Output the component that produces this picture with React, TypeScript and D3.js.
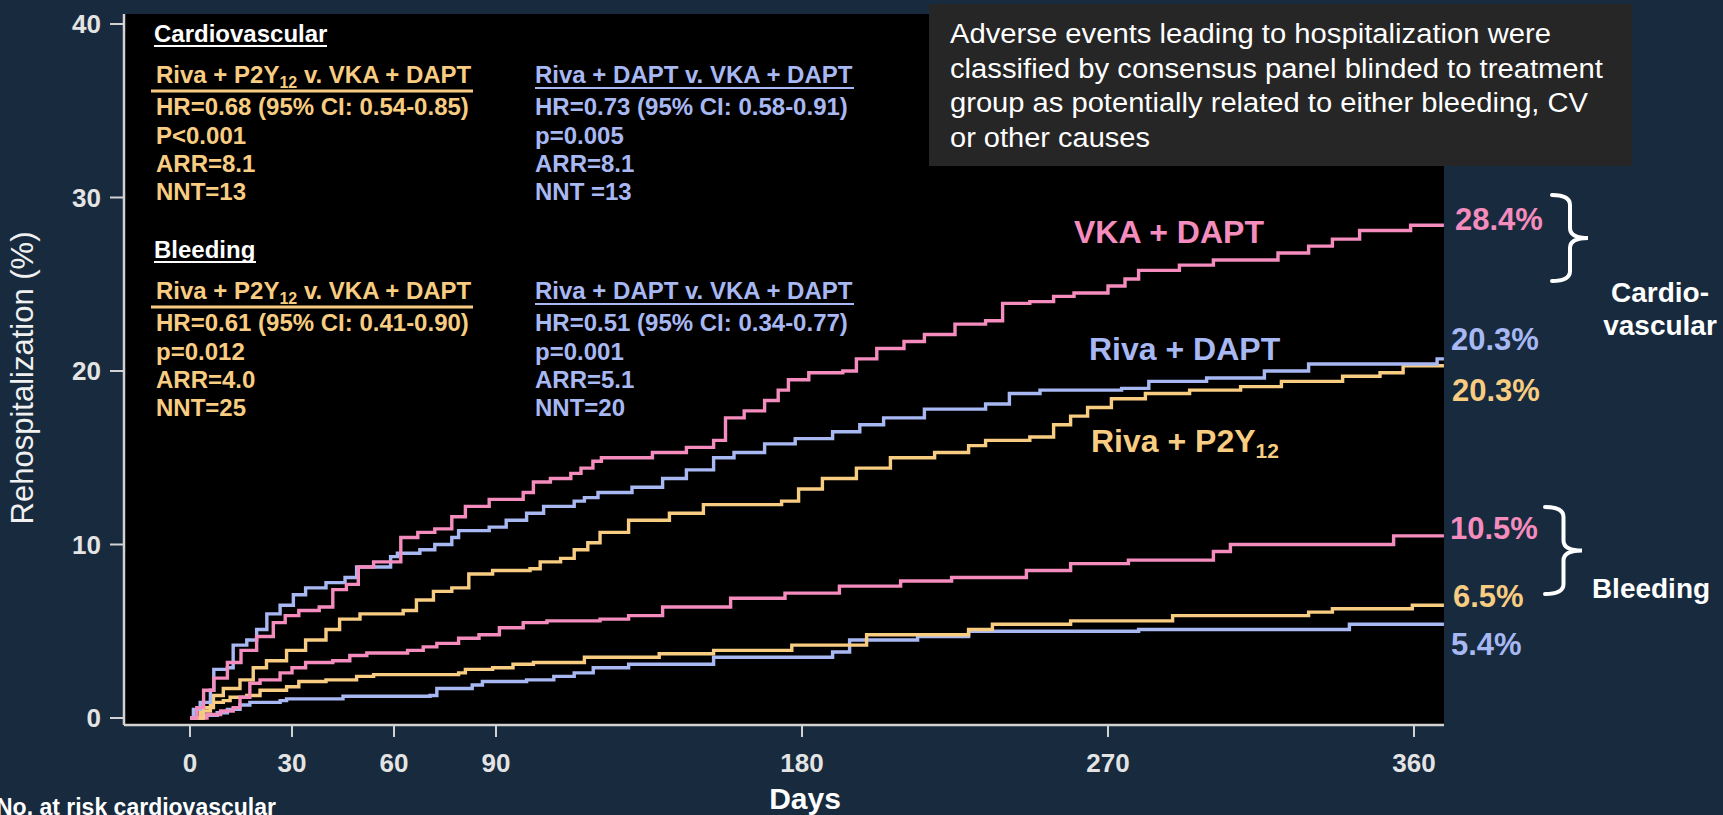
import React from 'react';
import * as d3 from 'd3';

type Pt = [number, number];

// axis ticks
const xTicks = [0, 30, 60, 90, 180, 270, 360];
const yTicks = [0, 10, 20, 30, 40];

// cumulative rehospitalization (%), [day, value]
const vkaDaptCv: Pt[] = [
  [0, 0], [2, 0.6], [4, 1.6], [7, 2.3], [11, 3.2], [15, 3.9], [19.6, 4.7], [24.5, 5.5], [28, 5.9],
  [32, 6.2], [38, 6.4], [42, 7.4], [46, 7.7], [49.5, 8.7], [54, 9.0], [62, 10.4], [67, 10.7],
  [72, 10.9], [77, 11.6], [81, 12.2], [88, 12.6], [98, 13.0], [101, 13.6], [106, 13.8], [112, 14.1],
  [115, 14.4], [118.5, 14.8], [121, 15.0], [136, 15.3], [146, 15.6], [154, 16.0], [157.5, 17.3],
  [163, 17.7], [169, 18.3], [173, 18.9], [176, 19.5], [182, 19.9], [192, 20.0], [196, 20.7],
  [202, 21.3], [210, 21.7], [216, 22.1], [225, 22.7], [234, 22.9], [239, 23.9], [247, 24.0],
  [254, 24.3], [260, 24.5], [270, 24.9], [275, 25.3], [279, 25.8], [291, 26.1], [301, 26.4],
  [320, 26.8], [329, 27.2], [336, 27.6], [344, 28.1], [359, 28.4], [368.8, 28.4]
];

const rivaDaptCv: Pt[] = [
  [0, 0], [1, 0.5], [3, 0.9], [6, 1.6], [7, 2.8], [11, 2.9], [12.7, 4.2], [16.7, 4.5], [19.6, 5.1],
  [22.6, 6.0], [26.5, 6.5], [30.4, 7.1], [34, 7.5], [40, 7.8], [45.6, 8.1], [49, 8.7], [59, 9.3],
  [61, 9.5], [67.6, 9.7], [72, 10.0], [77, 10.4], [79, 10.8], [88, 11.0], [93, 11.4], [99, 11.8],
  [104, 12.2], [113, 12.5], [116, 12.7], [120, 13.0], [130, 13.3], [139, 13.8], [146, 14.3],
  [154, 15.0], [160, 15.3], [169, 15.8], [178, 16.1], [189, 16.5], [197, 16.9], [204, 17.3],
  [216, 17.8], [234, 18.1], [241, 18.7], [250, 18.9], [274, 19.0], [282, 19.4], [299, 19.6],
  [316, 20.0], [329, 20.4], [366.8, 20.7], [368.8, 20.7]
];

const rivaP2y12Cv: Pt[] = [
  [0, 0], [3.9, 0.6], [6.9, 1.3], [9.8, 1.7], [14.7, 2.2], [18.6, 2.9], [22.5, 3.3], [28.4, 3.9],
  [34, 4.5], [40, 5.1], [44, 5.7], [50, 6.0], [62.7, 6.2], [66.6, 6.8], [71.6, 7.3], [77, 7.5],
  [82, 8.3], [89, 8.5], [100, 8.6], [103, 9.0], [109, 9.2], [113, 9.7], [117, 10.1], [120.6, 10.7],
  [129, 11.4], [141, 11.8], [151, 12.3], [174, 12.5], [179, 13.2], [186, 13.8], [196, 14.4],
  [206, 15.0], [219, 15.3], [229, 15.7], [234, 16.0], [247, 16.2], [254, 16.9], [259, 17.4],
  [264, 17.9], [271, 18.4], [281, 18.7], [294, 18.9], [309, 19.1], [321, 19.4], [339, 19.7],
  [350, 19.9], [356.8, 20.3], [368.8, 20.3]
];

const vkaDaptBleed: Pt[] = [
  [0, 0], [5, 0.2], [9, 0.4], [12.7, 0.6], [14.7, 1.2], [17.6, 2.0], [20.6, 2.2], [26.5, 2.6],
  [30, 2.9], [34, 3.2], [42, 3.3], [47, 3.6], [52, 3.75], [64, 3.9], [68.6, 4.1], [72.6, 4.3],
  [79, 4.6], [85, 4.8], [91, 5.2], [98, 5.5], [105, 5.6], [120.6, 5.7], [129, 5.9], [139, 6.4],
  [159, 6.9], [175, 7.2], [191, 7.6], [209, 7.9], [224, 8.1], [246, 8.5], [259, 8.9], [276, 9.1],
  [301, 9.6], [306, 10.0], [349, 10.0], [354, 10.5], [368.8, 10.5]
];

const rivaP2y12Bleed: Pt[] = [
  [0, 0], [3, 0.4], [6, 0.9], [9.8, 1.0], [11.8, 1.2], [16.7, 1.3], [20.6, 1.6], [28.4, 1.8],
  [32, 2.1], [40, 2.2], [49, 2.4], [54, 2.5], [79, 2.6], [81, 2.8], [89, 2.9], [95, 3.1],
  [101, 3.2], [116, 3.5], [138, 3.7], [154, 3.9], [177, 4.2], [199, 4.8], [229, 5.1], [236, 5.4],
  [259, 5.6], [289, 5.9], [329, 6.1], [336, 6.3], [359.5, 6.5], [368.8, 6.5]
];

const rivaDaptBleed: Pt[] = [
  [0, 0], [4, 0.15], [8, 0.3], [11, 0.5], [14.7, 0.75], [17.6, 0.9], [26.5, 1.0], [28.4, 1.1],
  [45, 1.25], [70.6, 1.3], [72.6, 1.7], [83, 1.9], [86, 2.1], [99, 2.2], [107, 2.4], [113, 2.6],
  [118.6, 2.9], [129, 3.1], [154, 3.5], [189, 3.8], [194, 4.5], [214, 4.7], [229, 5.0],
  [279, 5.1], [341, 5.4], [368.8, 5.4]
];

// statistics text
const cvP2y12Stats = ['HR=0.68 (95% CI: 0.54-0.85)', 'P<0.001', 'ARR=8.1', 'NNT=13'];
const cvDaptStats = ['HR=0.73 (95% CI: 0.58-0.91)', 'p=0.005', 'ARR=8.1', 'NNT =13'];
const bleedP2y12Stats = ['HR=0.61 (95% CI: 0.41-0.90)', 'p=0.012', 'ARR=4.0', 'NNT=25'];
const bleedDaptStats = ['HR=0.51 (95% CI: 0.34-0.77)', 'p=0.001', 'ARR=5.1', 'NNT=20'];

const noteLines = [
  'Adverse events leading to hospitalization were',
  'classified by consensus panel blinded to treatment',
  'group as potentially related to either bleeding, CV',
  'or other causes'
];

const endLabels = ['28.4%', '20.3%', '20.3%', '10.5%', '6.5%', '5.4%'];

const PINK = '#f48cbd';
const BLUE = '#a8b8f3';
const ORANGE = '#f8cd82';
const BG = '#172a3e';
const AXIS = '#d2d2d2';
const FONT = '"Liberation Sans", Arial, Helvetica, sans-serif';

const series = [
  { data: rivaDaptBleed, color: BLUE },
  { data: rivaP2y12Bleed, color: ORANGE },
  { data: vkaDaptBleed, color: PINK },
  { data: rivaP2y12Cv, color: ORANGE },
  { data: rivaDaptCv, color: BLUE },
  { data: vkaDaptCv, color: PINK }
];

const endLabelStyle = [
  { color: PINK, x: 1455, y: 230 },
  { color: BLUE, x: 1451, y: 350 },
  { color: ORANGE, x: 1452, y: 401 },
  { color: PINK, x: 1450, y: 539 },
  { color: ORANGE, x: 1453, y: 607 },
  { color: BLUE, x: 1451, y: 655 }
];

const brace = (x0: number, y0: number, y1: number, w: number) => {
  const xm = x0 + w / 2, ym = (y0 + y1) / 2, r = 10;
  return `M${x0},${y0} Q${xm},${y0} ${xm},${y0 + r} L${xm},${ym - r} Q${xm},${ym} ${x0 + w},${ym} ` +
    `Q${xm},${ym} ${xm},${ym + r} L${xm},${y1 - r} Q${xm},${y1} ${x0},${y1}`;
};

function P2y12Header({ x, y, color, size }: { x: number, y: number, color: string, size: number }) {
  const sub = Math.round(size * 0.66);
  const dy = Math.round(size * 0.2);
  return (
    <text x={x} y={y} fill={color} fontSize={size} fontWeight="bold">
      <tspan>Riva + P2Y</tspan>
      <tspan fontSize={sub} dy={dy}>12</tspan>
      <tspan dy={-dy}> v. VKA + DAPT</tspan>
    </text>
  );
}

function StatBlock({ top, title, titleUnder, left, right }: any) {
  const rows = [32, 60.5, 89, 117];
  return (
    <g>
      <text x={154} y={top - 41} fill="#fff" fontSize={24} fontWeight="bold">{title}</text>
      <line x1={154} x2={titleUnder} y1={top - 37} y2={top - 37} stroke="#fff" strokeWidth={2.2} />
      <P2y12Header x={156} y={top} color={ORANGE} size={24} />
      <line x1={151} x2={473} y1={top + 8} y2={top + 8} stroke={ORANGE} strokeWidth={3} />
      {left.map((t: string, i: number) => (
        <text key={'l' + i} x={156} y={top + rows[i]} fill={ORANGE} fontSize={24} fontWeight="bold">{t}</text>
      ))}
      <text x={535} y={top} fill={BLUE} fontSize={24} fontWeight="bold">Riva + DAPT v. VKA + DAPT</text>
      <line x1={535} x2={854} y1={top + 5} y2={top + 5} stroke={BLUE} strokeWidth={2} />
      {right.map((t: string, i: number) => (
        <text key={'r' + i} x={535} y={top + rows[i]} fill={BLUE} fontSize={24} fontWeight="bold">{t}</text>
      ))}
    </g>
  );
}

export default function App() {
  const W = 1723, H = 815;
  const plot = { left: 124, right: 1444, top: 14, bottom: 725 };

  const x = d3.scaleLinear().domain([0, 360]).range([190, 1414]);
  const y = d3.scaleLinear().domain([0, 40]).range([718, 24]);
  const line = d3.line<Pt>().x(d => x(d[0])).y(d => y(d[1])).curve(d3.curveStepAfter);

  return (
    <svg width={W} height={H} style={{ position: 'absolute', left: 0, top: 0, display: 'block' }}
      fontFamily={FONT}>
      <defs>
        <clipPath id="plotClip">
          <rect x={plot.left} y={plot.top} width={plot.right - plot.left} height={plot.bottom - plot.top} />
        </clipPath>
      </defs>
      <rect width={W} height={H} fill={BG} />
      <rect x={plot.left} y={plot.top} width={plot.right - plot.left} height={plot.bottom - plot.top} fill="#000" />

      {/* curves */}
      <g clipPath="url(#plotClip)">
        {series.map((s, i) => (
          <path key={i} d={line(s.data) || ''} fill="none" stroke={s.color} strokeWidth={3.4}
            strokeLinejoin="miter" />
        ))}
      </g>

      {/* axes */}
      <line x1={plot.left} x2={plot.left} y1={plot.top} y2={plot.bottom} stroke={AXIS} strokeWidth={2.5} />
      <line x1={plot.left} x2={plot.right} y1={plot.bottom} y2={plot.bottom} stroke={AXIS} strokeWidth={2.5} />
      {yTicks.map(t => (
        <g key={'y' + t}>
          <line x1={110} x2={plot.left} y1={y(t)} y2={y(t)} stroke={AXIS} strokeWidth={2} />
          <text x={101} y={y(t)} dy="0.36em" textAnchor="end" fill="#e4e4e4" fontSize={26}
            fontWeight="bold">{t}</text>
        </g>
      ))}
      {xTicks.map(t => (
        <g key={'x' + t}>
          <line x1={x(t)} x2={x(t)} y1={plot.bottom} y2={plot.bottom + 12} stroke={AXIS} strokeWidth={2} />
          <text x={x(t)} y={772} textAnchor="middle" fill="#e4e4e4" fontSize={26} fontWeight="bold">{t}</text>
        </g>
      ))}
      <text x={805} y={809} textAnchor="middle" fill="#fff" fontSize={30} fontWeight="bold">Days</text>
      <text x={-4} y={815} fill="#fff" fontSize={23} fontWeight="bold">No. at risk cardiovascular</text>
      <text transform="translate(33,378) rotate(-90)" textAnchor="middle" fill="#f0f0f0" fontSize={31}>
        Rehospitalization (%)
      </text>

      {/* stats */}
      <StatBlock top={83} title="Cardiovascular" titleUnder={327} left={cvP2y12Stats} right={cvDaptStats} />
      <StatBlock top={299} title="Bleeding" titleUnder={256} left={bleedP2y12Stats} right={bleedDaptStats} />

      {/* series labels */}
      <text x={1074} y={243} fill={PINK} fontSize={32} fontWeight="bold">VKA + DAPT</text>
      <text x={1089} y={360} fill={BLUE} fontSize={32} fontWeight="bold">Riva + DAPT</text>
      <text x={1091} y={452} fill={ORANGE} fontSize={32} fontWeight="bold">
        <tspan>Riva + P2Y</tspan>
        <tspan fontSize={21} dy={6}>12</tspan>
      </text>

      {/* end values */}
      {endLabels.map((t, i) => (
        <text key={'e' + i} x={endLabelStyle[i].x} y={endLabelStyle[i].y} fill={endLabelStyle[i].color}
          fontSize={31} fontWeight="bold">{t}</text>
      ))}

      {/* braces */}
      <path d={brace(1552, 195, 281, 36)} fill="none" stroke="#fff" strokeWidth={4} strokeLinecap="round" />
      <path d={brace(1545, 507, 594, 37)} fill="none" stroke="#fff" strokeWidth={4} strokeLinecap="round" />
      <text x={1660} y={302} textAnchor="middle" fill="#fff" fontSize={28} fontWeight="bold">Cardio-</text>
      <text x={1660} y={335} textAnchor="middle" fill="#fff" fontSize={28} fontWeight="bold">vascular</text>
      <text x={1651} y={598} textAnchor="middle" fill="#fff" fontSize={28} fontWeight="bold">Bleeding</text>

      {/* note box */}
      <rect x={929} y={4} width={703} height={162} fill="#262626" />
      {noteLines.map((t, i) => (
        <text key={'n' + i} x={950} y={43 + i * 34.7} fill="#fff" fontSize={27}
          textLength={[601, 653, 638, 200][i]} lengthAdjust="spacingAndGlyphs">{t}</text>
      ))}
    </svg>
  );
}
